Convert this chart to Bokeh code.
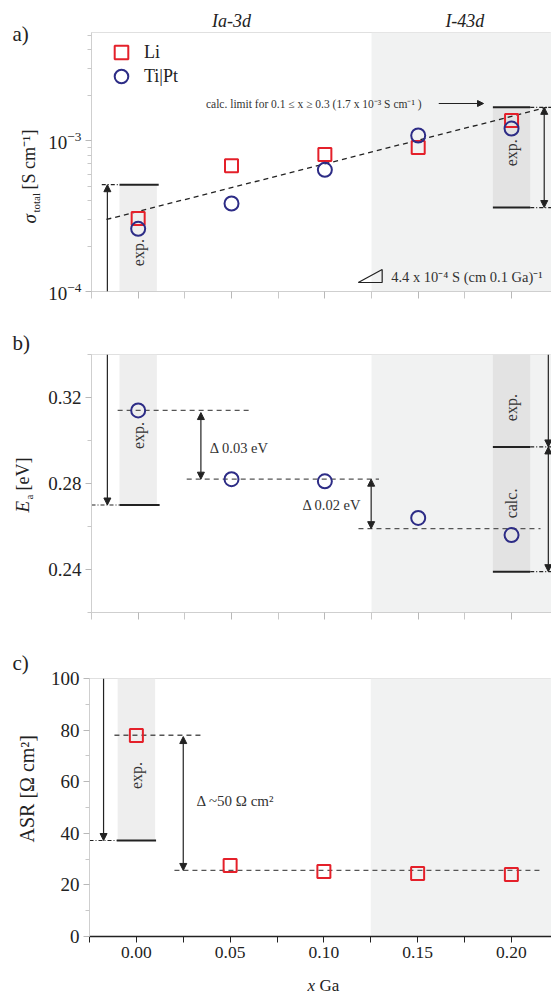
import numpy as np
from bokeh.plotting import figure
from bokeh.layouts import column, row
from bokeh.models import (Range1d, FixedTicker, PrintfTickFormatter, LogTickFormatter, Label,
                          Arrow, NormalHead, Legend, LegendItem, BoxAnnotation, LinearAxis)
from bokeh.embed import file_html
from bokeh.resources import INLINE

# ---------------- data ----------------
x_ga = [0.00, 0.05, 0.10, 0.15, 0.20]
sigma_li = [3.04e-4, 6.8e-4, 8.1e-4, 9.0e-4, 1.36e-3]
sigma_tipt = [2.6e-4, 3.83e-4, 6.4e-4, 1.08e-3, 1.2e-3]
ea_tipt = [0.314, 0.282, 0.281, 0.264, 0.256]
asr_li = [77.9, 27.5, 25.2, 24.4, 24.0]

x_ticks = [0.00, 0.05, 0.10, 0.15, 0.20]
x_minor = [-0.025, 0.025, 0.075, 0.125, 0.175]
sigma_ticks = [1e-4, 1e-3]
sigma_minor = [2e-4, 3e-4, 4e-4, 5e-4, 6e-4, 7e-4, 8e-4, 9e-4, 2e-3, 3e-3, 4e-3, 5e-3]
ea_ticks = [0.24, 0.28, 0.32]
ea_minor = [0.22, 0.26, 0.30, 0.34]
asr_ticks = [0, 20, 40, 60, 80, 100]
asr_minor = [10, 30, 50, 70, 90]
phase_names = ["Ia-3d", "I-43d"]
phase_centers = [0.05, 0.175]
phase_boundary = 0.125

sigma_exp_x0 = 5.1e-4                 # experimental sigma (x=0)
sigma_exp_x020 = [3.6e-4, 1.66e-3]    # experimental sigma range (x=0.2)
sigma_trend_x = [-0.017, 0.219]
sigma_trend_y = [3.0e-4, 1.66e-3]
ea_exp_x0 = 0.27
ea_levels = [0.314, 0.282, 0.259]
ea_exp_x020 = 0.297
ea_calc_x020 = 0.239
asr_exp_x0 = 37.2
asr_levels = [78.0, 25.6]

# ---------------- style ----------------
FONT = "Liberation Serif"
RED = "#e4202a"
NAVY = "#2d2c86"
INK = "#222222"
SHADE = "#f1f2f2"
BOX0 = "#eeeeee"
BOX2 = "#e3e3e3"
DASH = "#555555"
LW = 45          # width of the label strip on the left
W = 551

xr = Range1d(-0.025, 0.2214)


def no_align(f):
    try:
        f.frame_align = False
    except Exception:
        pass


def base_fig(h, top, bottom, yr, ytype="linear"):
    p = figure(width=W - LW, height=h, x_range=xr, y_range=yr, y_axis_type=ytype,
               output_backend="svg", toolbar_location=None,
               min_border_left=89 - LW, min_border_right=0,
               min_border_top=top, min_border_bottom=bottom)
    p.xgrid.visible = False
    p.ygrid.visible = False
    p.outline_line_color = "#e0e0e0"
    for ax in (p.xaxis[0], p.yaxis[0]):
        ax.axis_line_color = "#cfcfcf"
        ax.major_tick_line_color = "#b8b8b8"
        ax.minor_tick_line_color = "#c8c8c8"
        ax.major_tick_in = 0
        ax.major_tick_out = 6
        ax.minor_tick_in = 0
        ax.minor_tick_out = 4
        ax.major_label_text_font = FONT
        ax.major_label_text_color = INK
        ax.major_label_standoff = 4
    p.yaxis.major_label_text_font_size = "19px"
    p.xaxis.ticker = FixedTicker(ticks=x_ticks, minor_ticks=x_minor)
    p.xaxis.major_label_text_font_size = "10px"
    p.xaxis.major_label_text_color = None      # tick labels only on the bottom panel
    p.xaxis.major_label_standoff = 0
    p.xaxis.major_tick_out = 7
    p.xaxis.minor_tick_out = 7
    p.add_layout(BoxAnnotation(left=phase_boundary, fill_color=SHADE, fill_alpha=1,
                               line_color=None, level="underlay"))
    return p


def strip(w, h):
    s = figure(width=w, height=h, x_range=Range1d(0, w), y_range=Range1d(0, h),
               output_backend="svg", toolbar_location=None, min_border=0,
               x_axis_location=None, y_axis_location=None)
    s.xgrid.visible = False
    s.ygrid.visible = False
    s.outline_line_color = None
    no_align(s)
    return s


def hline(p, x0, x1, y, color=INK, width=2.0, dash="solid"):
    p.line([x0, x1], [y, y], line_color=color, line_width=width, line_dash=dash)


def arrow(p, x, y0, y1, double=False, size=7):
    head = lambda: NormalHead(size=size, fill_color=INK, line_color=INK, line_width=1)
    p.add_layout(Arrow(x_start=x, y_start=y0, x_end=x, y_end=y1, end=head(),
                       start=head() if double else None,
                       line_color=INK, line_width=1.2))


def txt(p, x, y, text, size="15px", angle=0.0, align="center", baseline="middle",
        style="normal", color="#333333"):
    p.add_layout(Label(x=x, y=y, text=text, angle=angle, text_align=align,
                       text_baseline=baseline, text_font=FONT, text_font_size=size,
                       text_font_style=style, text_color=color))


def legend_one(p, label, r, vy):
    p.add_layout(Legend(items=[LegendItem(label=label, renderers=[r])],
                        location=(13, vy), glyph_width=34, glyph_height=34,
                        padding=0, margin=0, label_standoff=6, border_line_color=None,
                        background_fill_alpha=0, label_text_font=FONT,
                        label_text_font_size="18px", label_text_color=INK))


ROT = np.pi / 2
DOT = "4 2 1 2"
DSH = "5 4"

# ================= panel a =================
pa = base_fig(310, 32, 19, Range1d(1e-4, 5.2e-3), "log")
pa.yaxis.ticker = FixedTicker(ticks=sigma_ticks, minor_ticks=sigma_minor)
pa.yaxis.formatter = LogTickFormatter()
pa.quad(left=[-0.01], right=[0.01], bottom=[1e-4], top=[sigma_exp_x0],
        fill_color=BOX0, line_color=None)
pa.quad(left=[0.19], right=[0.21], bottom=[sigma_exp_x020[0]], top=[sigma_exp_x020[1]],
        fill_color=BOX2, line_color=None)
hline(pa, -0.01, 0.011, sigma_exp_x0)
hline(pa, -0.0195, -0.01, sigma_exp_x0, width=1.2, dash=DOT)
arrow(pa, -0.0165, 1e-4, sigma_exp_x0)
for lev in sigma_exp_x020:
    hline(pa, 0.19, 0.21, lev)
    hline(pa, 0.21, 0.2214, lev, width=1.2, dash=DOT)
arrow(pa, 0.2175, sigma_exp_x020[0], sigma_exp_x020[1], double=True)
pa.line(sigma_trend_x, sigma_trend_y, line_color=INK, line_width=1.3, line_dash=DSH)
txt(pa, 0.0, 1.81e-4, "exp.", size="16px", angle=ROT)
txt(pa, 0.2, 8.3e-4, "exp.", size="16px", angle=ROT)
txt(pa, 0.0363, 1.76e-3, "calc. limit for 0.1 \u2264 x \u2265 0.3 (1.7 x 10\u207b\u00b3 S cm\u207b\u00b9 )",
    size="11.5px", align="left")
pa.add_layout(Arrow(x_start=0.161, y_start=1.76e-3, x_end=0.185, y_end=1.76e-3,
                    end=NormalHead(size=6, fill_color=INK, line_color=INK, line_width=1),
                    line_color=INK, line_width=1))
pa.patch([0.1179, 0.1307, 0.1307], [1.147e-4, 1.147e-4, 1.40e-4],
         fill_color=None, line_color=INK, line_width=1.2)
txt(pa, 0.1355, 1.24e-4, "4.4 x 10\u207b\u2074  S (cm 0.1 Ga)\u207b\u00b9", size="14.5px", align="left")

r_li = pa.scatter(x_ga, sigma_li, marker="square", size=13, line_color=RED,
                  fill_color=None, line_width=2)
r_ti = pa.scatter(x_ga, sigma_tipt, marker="circle", size=14, line_color=NAVY,
                  fill_color=None, line_width=2)
legend_one(pa, "Li", r_li, 222)
legend_one(pa, "Ti|Pt", r_ti, 198)

top_ax = LinearAxis(ticker=FixedTicker(ticks=phase_centers, minor_ticks=[]),
                    major_label_overrides=dict(zip(phase_centers, phase_names)),
                    axis_line_color=None, major_tick_line_color=None,
                    minor_tick_line_color=None, major_tick_out=0, major_tick_in=0,
                    major_label_standoff=2, major_label_text_font=FONT,
                    major_label_text_font_style="italic",
                    major_label_text_font_size="18px", major_label_text_color=INK)
pa.add_layout(top_ax, "above")

sa = strip(LW, 310)
txt(sa, 12, 277, "a)", size="21px", align="left", color=INK)
txt(sa, 29, 87, "\u03c3", size="19px", angle=ROT, align="left", style="italic", color=INK)
txt(sa, 35, 98, "total", size="11px", angle=ROT, align="left", color=INK)
txt(sa, 28, 121, "[S cm\u207b\u00b9]", size="18px", angle=ROT, align="left", color=INK)

# ================= panel b =================
pb = base_fig(320, 44, 18, Range1d(0.22, 0.34))
pb.yaxis.ticker = FixedTicker(ticks=ea_ticks, minor_ticks=ea_minor)
pb.yaxis.formatter = PrintfTickFormatter(format="%.2f")
pb.quad(left=[-0.01], right=[0.01], bottom=[ea_exp_x0], top=[0.34],
        fill_color=BOX0, line_color=None)
pb.quad(left=[0.19], right=[0.21], bottom=[ea_calc_x020], top=[0.34],
        fill_color=BOX2, line_color=None)
hline(pb, -0.01, 0.0115, ea_exp_x0)
hline(pb, -0.025, -0.01, ea_exp_x0, width=1.2, dash=DOT)
arrow(pb, -0.0165, 0.34, ea_exp_x0)
for lev in (ea_exp_x020, ea_calc_x020):
    hline(pb, 0.19, 0.21, lev)
    hline(pb, 0.21, 0.2214, lev, width=1.2, dash=DOT)
arrow(pb, 0.2197, 0.34, ea_exp_x020)
arrow(pb, 0.2197, ea_exp_x020, ea_calc_x020, double=True)
hline(pb, -0.011, 0.060, ea_levels[0], color=DASH, width=1.3, dash=DSH)
hline(pb, 0.026, 0.129, ea_levels[1], color=DASH, width=1.3, dash=DSH)
hline(pb, 0.118, 0.2155, ea_levels[2], color=DASH, width=1.3, dash=DSH)
arrow(pb, 0.0336, ea_levels[1], ea_levels[0] - 0.001, double=True)
arrow(pb, 0.1248, ea_levels[2], ea_levels[1], double=True)
txt(pb, 0.0384, 0.2967, "\u0394 0.03 eV", size="14.5px", align="left")
txt(pb, 0.1195, 0.2702, "\u0394 0.02 eV", size="14.5px", align="right")
txt(pb, 0.0, 0.3023, "exp.", size="16px", angle=ROT)
txt(pb, 0.2, 0.3153, "exp.", size="16px", angle=ROT)
txt(pb, 0.2, 0.2707, "calc.", size="16px", angle=ROT)
pb.scatter(x_ga, ea_tipt, marker="circle", size=14, line_color=NAVY,
           fill_color=None, line_width=2)

sb = strip(LW, 320)
txt(sb, 12, 288, "b)", size="21px", align="left", color=INK)
txt(sb, 22, 118, "E", size="19px", angle=ROT, align="left", style="italic", color=INK)
txt(sb, 28, 131, "a", size="11px", angle=ROT, align="left", color=INK)
txt(sb, 22, 140, "[eV]", size="18px", angle=ROT, align="left", color=INK)

# ================= panel c =================
pc = base_fig(339, 48, 33, Range1d(0, 100))
pc.yaxis.ticker = FixedTicker(ticks=asr_ticks, minor_ticks=asr_minor)
pc.xaxis.major_label_text_font_size = "17.5px"
pc.xaxis.major_label_text_color = INK
pc.xaxis.formatter = PrintfTickFormatter(format="%.2f")
pc.xaxis.axis_line_color = INK
pc.xaxis.axis_line_width = 1.5
pc.xaxis.major_tick_line_color = INK
pc.xaxis.minor_tick_line_color = INK
pc.xaxis.major_tick_out = 6
pc.xaxis.minor_tick_out = 6
pc.xaxis.major_label_standoff = 4
pc.quad(left=[-0.01], right=[0.01], bottom=[asr_exp_x0], top=[100],
        fill_color=BOX0, line_color=None)
hline(pc, -0.0105, 0.0105, asr_exp_x0)
hline(pc, -0.025, -0.0105, asr_exp_x0, width=1.2, dash=DOT)
arrow(pc, -0.0175, 100, asr_exp_x0)
hline(pc, -0.0117, 0.036, asr_levels[0], color=DASH, width=1.3, dash=DSH)
hline(pc, 0.0203, 0.217, asr_levels[1], color=DASH, width=1.3, dash=DSH)
arrow(pc, 0.025, asr_levels[1], asr_levels[0] - 0.5, double=True)
txt(pc, 0.032, 52.7, "\u0394 ~50 \u03a9 cm\u00b2", size="15px", align="left")
txt(pc, 0.0, 62.4, "exp.", size="16px", angle=ROT)
pc.scatter(x_ga, asr_li, marker="square", size=13, line_color=RED,
           fill_color=None, line_width=2)

sc = strip(LW, 339)
txt(sc, 12, 307, "c)", size="21px", align="left", color=INK)
txt(sc, 26, 127, "ASR [\u03a9 cm\u00b2]", size="20px", angle=ROT, align="left", color=INK)

# ================= x label strip =================
sx = strip(W, 26)
txt(sx, 307, 10, "x", size="17px", align="left", style="italic", color=INK)
txt(sx, 319, 10, "Ga", size="17px", align="left", color=INK)

layout = column(row(sa, pa, spacing=0), row(sb, pb, spacing=0),
                row(sc, pc, spacing=0), sx, spacing=0)
open("out.html", "w").write(file_html(layout, INLINE))
